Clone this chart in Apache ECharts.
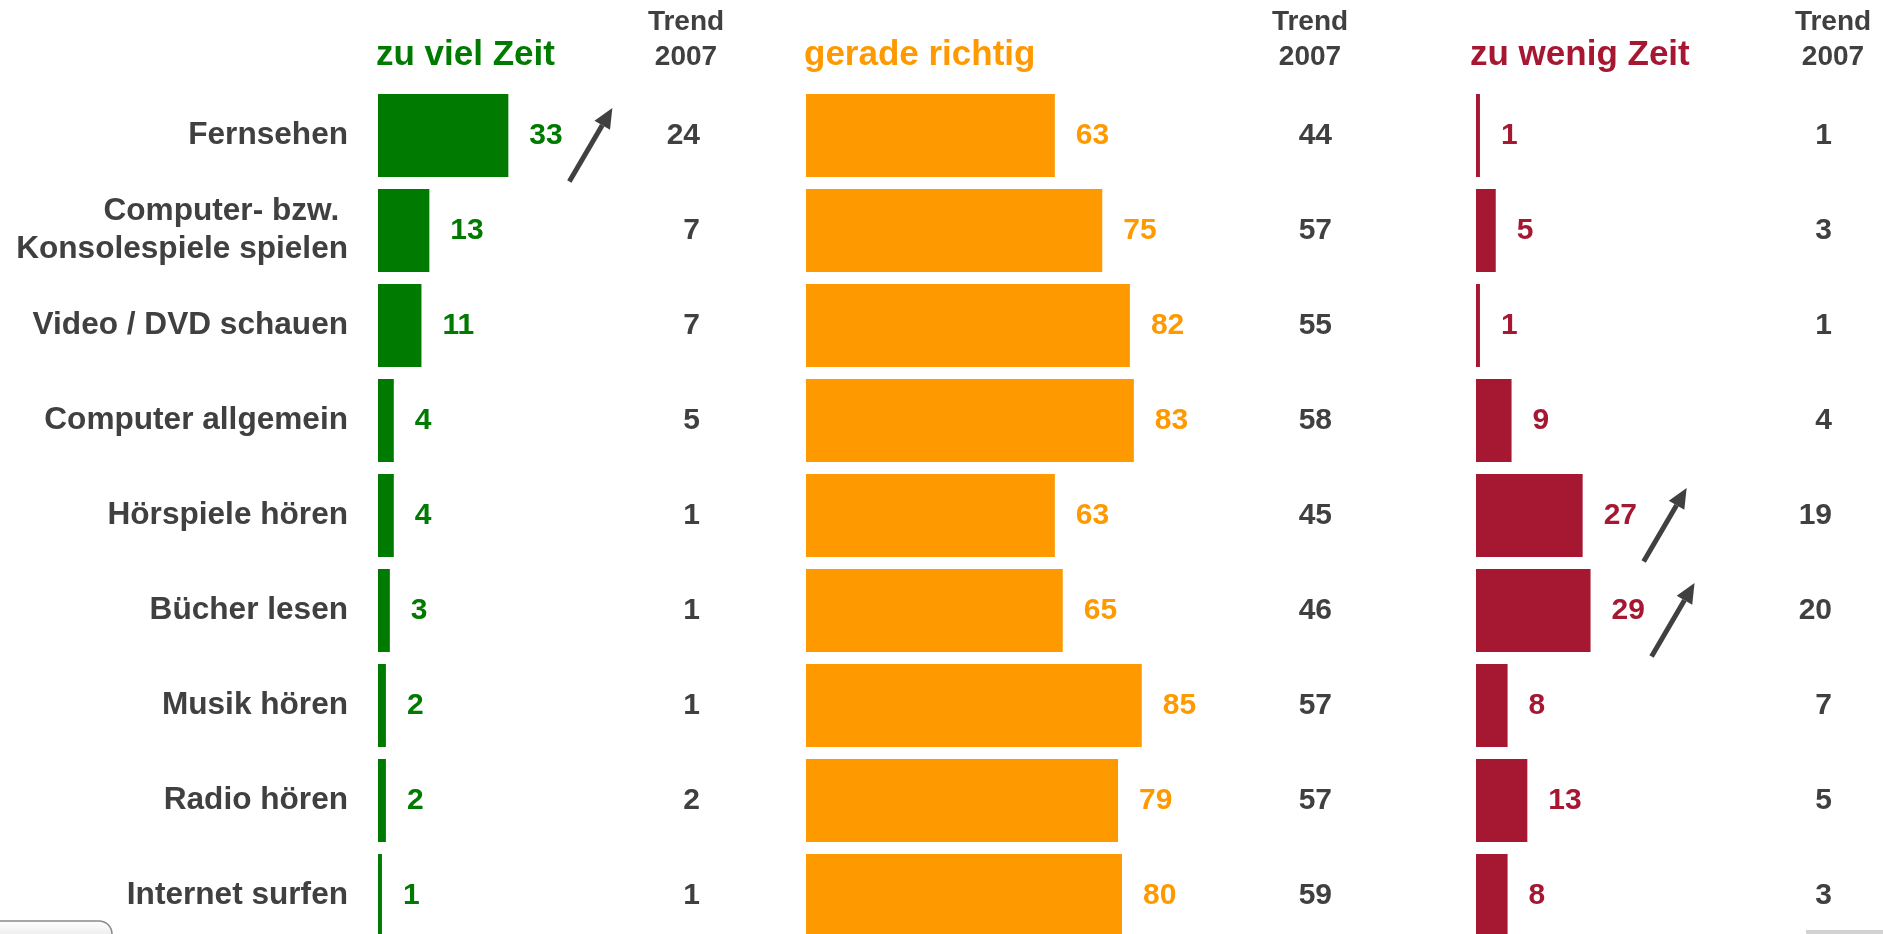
<!DOCTYPE html>
<html>
<head>
<meta charset="utf-8">
<script src="https://cdn.jsdelivr.net/npm/echarts@6/dist/echarts.min.js"></script>
<style>
  html, body { margin: 0; padding: 0; background: #ffffff; overflow: hidden; }
  /* the last row runs past the bottom edge of the window */
  #chart { width: 1883px; height: 960px; }
</style>
</head>
<body>
<div id="chart"></div>
<script>
// Activities and how much time children think they spend on them (percent)
const categories = [
  'Fernsehen',
  'Computer- bzw. \nKonsolespiele spielen',
  'Video / DVD schauen',
  'Computer allgemein',
  'Hörspiele hören',
  'Bücher lesen',
  'Musik hören',
  'Radio hören',
  'Internet surfen'
];

const panelTitles = ['zu viel Zeit', 'gerade richtig', 'zu wenig Zeit'];
const trendHeader = 'Trend\n2007';

const zuViel       = [33, 13, 11, 4, 4, 3, 2, 2, 1];
const zuVielTrend  = [24, 7, 7, 5, 1, 1, 1, 2, 1];
const gerade       = [63, 75, 82, 83, 63, 65, 85, 79, 80];
const geradeTrend  = [44, 57, 55, 58, 45, 46, 57, 57, 59];
const zuWenig      = [1, 5, 1, 9, 27, 29, 8, 13, 8];
const zuWenigTrend = [1, 3, 1, 4, 19, 20, 7, 5, 3];

// Rows that rose clearly since 2007 get an upward arrow
const risingZuViel  = ['Fernsehen'];
const risingZuWenig = ['Hörspiele hören', 'Bücher lesen'];

const GREEN = '#007a00', ORANGE = '#ff9900', RED = '#a61732', INK = '#404040';
const FONT = '"Liberation Sans", Arial, Helvetica, sans-serif';

const chart = echarts.init(document.getElementById('chart'), null, { renderer: 'canvas' });

const TOP = 88, ROWS_H = 855;
const barLefts = [378, 806, 1476];
const trendCenters = [700, 1332, 1832];
const headerCenters = [686, 1310, 1833];
const titleLefts = [376, 804, 1470];

const grids = [];
const xAxes = [];
const yAxes = [];
barLefts.forEach((l, i) => {
  grids.push({ left: l, top: TOP, width: 395, height: ROWS_H });
  xAxes.push({ gridIndex: i, type: 'value', min: 0, max: 100, show: false });
  yAxes.push({
    gridIndex: i, type: 'category', inverse: true, data: categories,
    axisLine: { show: false }, axisTick: { show: false },
    axisLabel: i === 0 ? {
      show: true, margin: 30, color: INK, fontFamily: FONT, fontWeight: 'bold',
      fontSize: 31.6, lineHeight: 38, align: 'right'
    } : { show: false }
  });
});
trendCenters.forEach((c, i) => {
  grids.push({ left: c - 50, top: TOP, width: 100, height: ROWS_H });
  xAxes.push({ gridIndex: 3 + i, type: 'value', min: 0, max: 1, show: false });
  yAxes.push({ gridIndex: 3 + i, type: 'category', inverse: true, data: categories, show: false });
});

function barSeries(idx, values, color) {
  return {
    type: 'bar', xAxisIndex: idx, yAxisIndex: idx, data: values, barWidth: 83,
    itemStyle: { color: color }, silent: true,
    label: {
      show: true, position: 'right', distance: 21, color: color,
      fontFamily: FONT, fontWeight: 'bold', fontSize: 30
    }
  };
}

function trendSeries(idx, values) {
  return {
    type: 'scatter', xAxisIndex: idx, yAxisIndex: idx, symbolSize: 0, silent: true,
    itemStyle: { opacity: 1 },
    data: values.map((v, r) => [0.5, r, v]),
    label: {
      show: true, position: 'left', distance: 0, color: INK, opacity: 1,
      fontFamily: FONT, fontWeight: 'bold', fontSize: 30,
      formatter: p => String(p.data[2])
    }
  };
}

function arrowSeries(idx, values, rising) {
  const data = rising.map(name => {
    const r = categories.indexOf(name);
    return [values[r], r];
  });
  return {
    type: 'custom', xAxisIndex: idx, yAxisIndex: idx, silent: true, clip: false,
    encode: { x: 0, y: 1 }, data: data,
    renderItem: (params, api) => {
      const p = api.coord([api.value(0), api.value(1)]);
      const tail = [p[0] + 61, p[1] + 46];
      const dx = 43, dy = -73.5, len = Math.hypot(dx, dy);
      const ux = dx / len, uy = dy / len, nx = -uy, ny = ux;
      const tip = [tail[0] + dx, tail[1] + dy];
      const base = [tip[0] - 20 * ux, tip[1] - 20 * uy];
      return {
        type: 'group',
        children: [
          { type: 'line', shape: { x1: tail[0], y1: tail[1], x2: base[0], y2: base[1] },
            style: { stroke: INK, lineWidth: 5 } },
          { type: 'polygon',
            shape: { points: [tip, [base[0] + 9 * nx, base[1] + 9 * ny], [base[0] - 9 * nx, base[1] - 9 * ny]] },
            style: { fill: INK } }
        ]
      };
    }
  };
}

const graphics = [];
const titleColors = [GREEN, ORANGE, RED];
panelTitles.forEach((t, i) => {
  graphics.push({
    type: 'text', silent: true, x: titleLefts[i], y: 55.5,
    style: { text: t, fill: titleColors[i], font: 'bold 35px ' + FONT,
             textAlign: 'left', textVerticalAlign: 'middle', align: 'left', verticalAlign: 'middle' }
  });
});
headerCenters.forEach(c => {
  graphics.push({
    type: 'text', silent: true, x: c, y: 39.5,
    style: { text: trendHeader, fill: INK, font: 'bold 28px ' + FONT, lineHeight: 35,
             textAlign: 'center', textVerticalAlign: 'middle', align: 'center', verticalAlign: 'middle' }
  });
});
// Navigation button peeking in at the lower left, and a strip at the lower right
graphics.push({
  type: 'rect', silent: true, shape: { x: -12, y: 921, width: 124, height: 32, r: 13 },
  style: {
    fill: new echarts.graphic.LinearGradient(0, 0, 0, 1, [
      { offset: 0, color: '#ffffff' }, { offset: 1, color: '#d9d9d9' }
    ]),
    stroke: '#8a8a8a', lineWidth: 1.5
  }
});
graphics.push({
  type: 'rect', silent: true, shape: { x: 1806, y: 930, width: 77, height: 4 },
  style: { fill: '#d2d2d2' }
});

chart.setOption({
  animation: false,
  backgroundColor: '#ffffff',
  grid: grids,
  xAxis: xAxes,
  yAxis: yAxes,
  series: [
    barSeries(0, zuViel, GREEN),
    barSeries(1, gerade, ORANGE),
    barSeries(2, zuWenig, RED),
    trendSeries(3, zuVielTrend),
    trendSeries(4, geradeTrend),
    trendSeries(5, zuWenigTrend),
    arrowSeries(0, zuViel, risingZuViel),
    arrowSeries(2, zuWenig, risingZuWenig)
  ],
  graphic: graphics
});
</script>
</body>
</html>
